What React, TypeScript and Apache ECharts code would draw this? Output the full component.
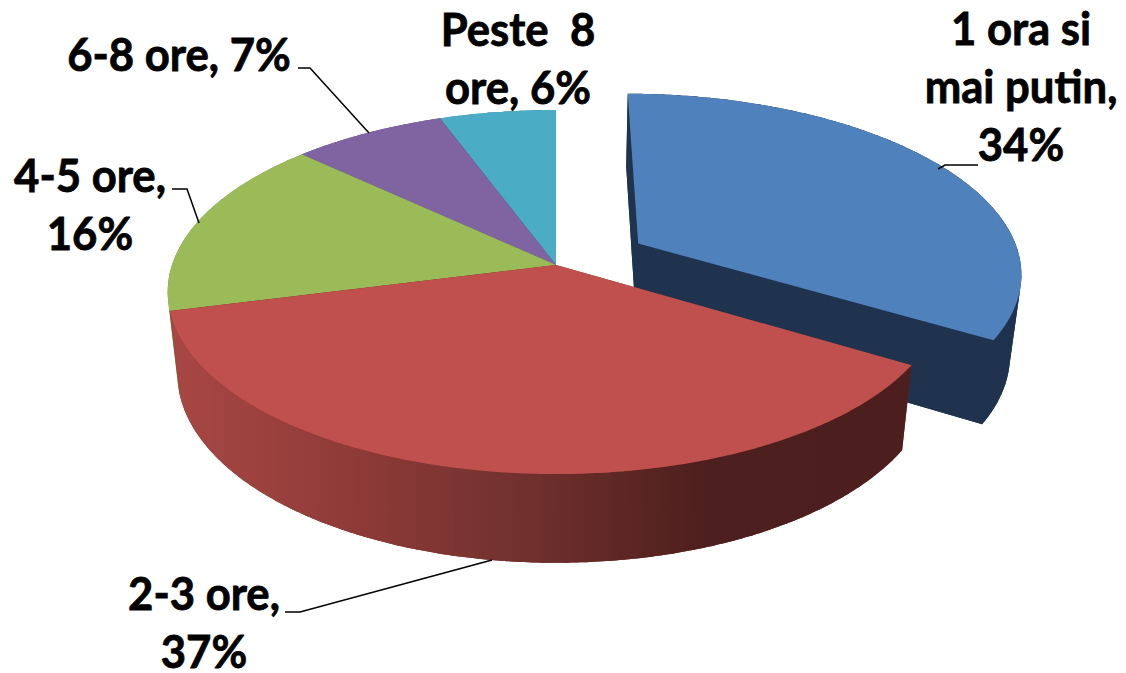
import React, { useEffect, useRef } from "react";
import * as echarts from "echarts";

const categories = ["1 ora si mai putin", "2-3 ore", "4-5 ore", "6-8 ore", "Peste 8 ore"];
// Unrounded shares are estimated from the drawn angles; labels show them rounded.
const values = [33.7, 37.3, 16, 7.4, 5.6];
const labelTexts = ["1 ora si\nmai putin,\n34%", "2-3 ore,\n37%", "4-5 ore,\n16%", "6-8 ore, 7%", "Peste  8\nore, 6%"];
const topColors = ["#4f81bd", "#c0504d", "#9bbb59", "#8064a2", "#4bacc6"];
const wallColors = ["#1f324e", "#7a2f2d", "#78923f", "#5f4a7a", "#357f93"];
const explode = [0.25, 0, 0, 0, 0];
const paintOrder = [1, 5, 4, 3, 2];

const labelCenters: [number, number][] = [[1021, 85], [204, 621], [90, 203], [179, 53], [518, 57]];
const leaders: [number, number][][] = [
  [[978, 165], [945, 165], [938, 169]],
  [[285, 612], [300, 612], [492, 560]],
  [[172, 189], [187, 189], [199, 223]],
  [[298, 68], [310, 68], [369, 133]],
];

const CX = 556, CY = 265, RX = 384, RY = 178, K = 0.1485, DEPTH = 83, DEPTH_K = 0.025;

function project(u: number, v: number, z: number): number[] {
  const s = 1 / (1 - K * v + DEPTH_K * z);
  return [CX + RX * u * s, CY + (RY * v + DEPTH * z) * s];
}

const total = values.reduce((a, b) => a + b, 0);
const cumulative = values.map((_, i) => values.slice(0, i).reduce((a, b) => a + b, 0));

function arc(i: number, z: number): number[][] {
  const a0 = (cumulative[i] / total) * Math.PI * 2;
  const a1 = ((cumulative[i] + values[i]) / total) * Math.PI * 2;
  const mid = (a0 + a1) / 2;
  const du = explode[i] * Math.sin(mid), dv = -explode[i] * Math.cos(mid);
  const n = Math.max(8, Math.ceil((a1 - a0) / 0.01));
  const out: number[][] = [];
  for (let k = 0; k <= n; k++) {
    const t = a0 + ((a1 - a0) * k) / n;
    out.push(project(du + Math.sin(t), dv - Math.cos(t), z));
  }
  return out;
}

function hub(i: number, z: number): number[] {
  const mid = ((cumulative[i] + values[i] / 2) / total) * Math.PI * 2;
  return project(explode[i] * Math.sin(mid), -explode[i] * Math.cos(mid), z);
}

const redWall = new echarts.graphic.LinearGradient(172, 0, 912, 0, [
  { offset: 0, color: "#a84744" },
  { offset: 0.24, color: "#8f3b38" },
  { offset: 0.48, color: "#70302e" },
  { offset: 0.62, color: "#5c2624" },
  { offset: 0.72, color: "#4d1f1e" },
  { offset: 1, color: "#4c1e1d" },
], true);

export default function App() {
  const ref = useRef<HTMLDivElement>(null);
  useEffect(() => {
    const chart = echarts.init(ref.current!, undefined, { renderer: "svg" });
    chart.setOption({
      animation: false,
      backgroundColor: "#ffffff",
      series: [
        {
          type: "custom",
          coordinateSystem: "none",
          silent: true,
          data: categories.map((name, i) => ({ name, value: values[i] })),
          renderItem: (params: any) => {
            const i = params.dataIndex;
            const top = arc(i, 0), bottom = arc(i, 1);
            const z2 = paintOrder[i];
            const wallFill = i === 1 ? redWall : wallColors[i];
            const children: any[] = [
              {
                type: "polygon", z2,
                shape: { points: [hub(i, 1), ...bottom] },
                style: { fill: wallColors[i] },
              },
              {
                type: "polygon", z2,
                shape: { points: [hub(i, 0), top[0], bottom[0], hub(i, 1)] },
                style: { fill: wallColors[i] },
              },
              {
                type: "polygon", z2,
                shape: { points: [hub(i, 0), top[top.length - 1], bottom[bottom.length - 1], hub(i, 1)] },
                style: { fill: wallColors[i] },
              },
            ];
            // The curved wall is built of short overlapping strips, so it folds cleanly
            // where it turns at the left and right edges of the disc.
            for (let k = 0; k < top.length - 1; k += 5) {
              const end = Math.min(top.length, k + 7);
              children.push({
                type: "polygon", z2,
                shape: { points: [...top.slice(k, end), ...bottom.slice(k, end).reverse()] },
                style: { fill: wallFill },
              });
            }
            children.push({
              type: "polygon", z2,
              shape: { points: [hub(i, 0), ...top] },
              style: { fill: topColors[i] },
            });
            return { type: "group", children };
          },
        },
      ],
      graphic: {
        elements: [
          ...leaders.map((points) => ({
            type: "polyline",
            z: 10,
            shape: { points },
            style: { fill: "none", stroke: "#000000", lineWidth: 1.5 },
          })),
          ...labelTexts.map((text, i) => ({
            type: "text",
            z: 11,
            x: labelCenters[i][0],
            y: labelCenters[i][1],
            scaleX: 0.97,
            style: {
              text,
              fill: "#000000",
              stroke: "#000000",
              lineWidth: 0.8,
              font: "700 45px Lato",
              lineHeight: 58,
              align: "center",
              verticalAlign: "middle",
            },
          })),
        ],
      },
    });
    return () => chart.dispose();
  }, []);
  return <div ref={ref} style={{ position: "fixed", left: 0, top: 0, width: 1126, height: 673 }} />;
}
